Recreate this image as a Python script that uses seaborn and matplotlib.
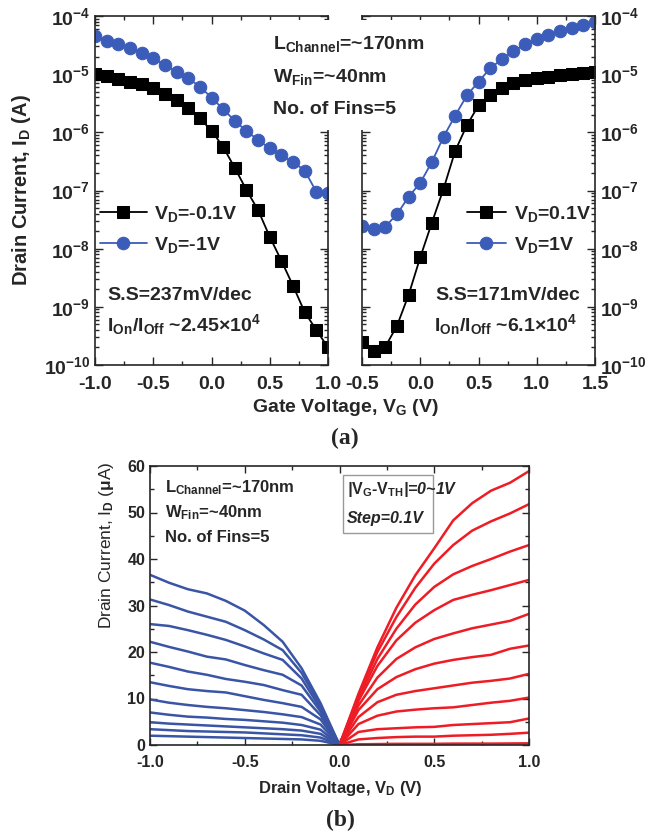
import matplotlib
matplotlib.use("Agg")
import matplotlib.pyplot as plt
import matplotlib.ticker as mticker
from matplotlib.patches import Rectangle
import seaborn as sns
import pandas as pd
import numpy as np

# ---------------- data ----------------
# (a) transfer curves, left: p-type side, right: n-type side
vg_left = [-1.0, -0.9, -0.8, -0.7, -0.6, -0.5, -0.4, -0.3, -0.2, -0.1, 0.0,
           0.1, 0.2, 0.3, 0.4, 0.5, 0.6, 0.7, 0.8, 0.9, 1.0]
id_left_vd01 = [1.0e-5, 9.3e-6, 8.3e-6, 7.4e-6, 6.7e-6, 5.7e-6, 4.6e-6, 3.6e-6, 2.6e-6, 1.74e-6, 1.07e-6,
                5.6e-7, 2.45e-7, 1.02e-7, 4.6e-8, 1.6e-8, 6.2e-9, 2.3e-9, 8.1e-10, 4.0e-10, 2.0e-10]
id_left_vd1 = [4.5e-5, 3.77e-5, 3.3e-5, 2.8e-5, 2.3e-5, 1.86e-5, 1.44e-5, 1.1e-5, 8.5e-6, 6.1e-6, 3.96e-6,
               2.5e-6, 1.58e-6, 1.05e-6, 7.4e-7, 5.3e-7, 4.0e-7, 3.1e-7, 2.2e-7, 9.5e-8, 8.9e-8]

vg_right = [-0.5, -0.4, -0.3, -0.2, -0.1, 0.0, 0.1, 0.2, 0.3, 0.4, 0.5,
            0.6, 0.7, 0.8, 0.9, 1.0, 1.1, 1.2, 1.3, 1.4, 1.5]
id_right_vd01 = [2.5e-10, 1.77e-10, 2.06e-10, 4.7e-10, 1.6e-9, 7.1e-9, 2.8e-8, 1.07e-7, 4.8e-7, 1.32e-6, 2.9e-6,
                 4.4e-6, 5.7e-6, 7.1e-6, 7.9e-6, 8.6e-6, 9.1e-6, 9.5e-6, 1.0e-5, 1.05e-5, 1.07e-5]
id_right_vd1 = [2.5e-8, 2.15e-8, 2.4e-8, 3.9e-8, 7.8e-8, 1.35e-7, 3.1e-7, 8.4e-7, 1.94e-6, 4.3e-6, 7.4e-6,
                1.26e-5, 1.8e-5, 2.5e-5, 3.25e-5, 3.97e-5, 4.8e-5, 5.6e-5, 6.2e-5, 7.0e-5, 7.8e-5]

# (b) output curves, |VG-VTH| = 1.0 ... 0.0 V (top to bottom), current in uA
vd_neg = [-1.0, -0.9, -0.8, -0.7, -0.6, -0.5, -0.4, -0.3, -0.2, -0.1, 0.0]
id_neg = [
    [36.6, 34.9, 33.5, 32.6, 31.0, 28.9, 25.8, 22.2, 16.5, 9.0, 0],
    [31.3, 30.1, 28.7, 27.6, 26.5, 24.7, 22.7, 20.4, 15.5, 8.4, 0],
    [26.0, 25.6, 24.7, 23.7, 22.6, 21.2, 19.7, 18.3, 14.3, 7.8, 0],
    [22.2, 21.1, 20.1, 19.0, 18.4, 17.2, 16.1, 15.1, 12.8, 7.2, 0],
    [17.7, 16.8, 15.8, 15.1, 14.2, 13.6, 12.9, 11.8, 10.8, 6.4, 0],
    [13.5, 12.7, 12.0, 11.6, 11.3, 10.5, 9.7, 9.0, 8.2, 5.5, 0],
    [9.8, 9.1, 8.6, 8.2, 7.9, 7.5, 7.1, 6.6, 6.0, 4.4, 0],
    [7.0, 6.5, 6.1, 5.9, 5.6, 5.4, 5.1, 4.8, 4.3, 3.3, 0],
    [4.9, 4.6, 4.4, 4.2, 4.0, 3.8, 3.6, 3.4, 3.1, 2.4, 0],
    [3.4, 3.2, 3.0, 2.9, 2.8, 2.7, 2.5, 2.3, 2.1, 1.6, 0],
    [2.0, 1.9, 1.8, 1.7, 1.6, 1.5, 1.4, 1.3, 1.2, 0.9, 0],
]
vd_pos = [0.0, 0.1, 0.2, 0.3, 0.4, 0.5, 0.6, 0.7, 0.8, 0.9, 1.0]
id_pos = [
    [0, 11.0, 21.0, 29.5, 36.5, 42.3, 48.3, 52.0, 54.7, 56.4, 58.9],
    [0, 10.5, 20.0, 27.5, 33.8, 39.0, 43.0, 46.1, 48.1, 49.8, 51.8],
    [0, 10.0, 18.5, 25.0, 30.2, 34.0, 36.7, 38.5, 40.0, 41.6, 43.0],
    [0, 9.5, 17.0, 22.5, 26.3, 29.0, 31.2, 32.3, 33.3, 34.4, 35.5],
    [0, 8.5, 14.5, 18.5, 21.0, 22.8, 24.0, 25.1, 25.9, 26.7, 28.2],
    [0, 7.5, 12.0, 14.6, 16.3, 17.5, 18.3, 18.9, 19.4, 20.7, 21.4],
    [0, 6.0, 9.2, 10.8, 11.6, 12.2, 12.8, 13.4, 13.8, 14.3, 15.3],
    [0, 4.5, 6.3, 7.2, 7.6, 7.9, 8.1, 8.6, 9.1, 9.5, 10.2],
    [0, 2.8, 3.4, 3.6, 3.8, 3.9, 4.3, 4.5, 4.7, 4.9, 5.7],
    [0, 1.2, 1.5, 1.7, 1.8, 1.8, 2.0, 2.1, 2.2, 2.4, 2.65],
    [0, 0.15, 0.2, 0.25, 0.25, 0.25, 0.3, 0.3, 0.3, 0.33, 0.36],
]

decades = [1e-10, 1e-9, 1e-8, 1e-7, 1e-6, 1e-5, 1e-4]
decade_labels = [r"$10^{-10}$", r"$10^{-9}$", r"$10^{-8}$", r"$10^{-7}$",
                 r"$10^{-6}$", r"$10^{-5}$", r"$10^{-4}$"]

# ---------------- style ----------------
sns.set_style("ticks")
plt.rcParams['font.family'] = ['Liberation Sans', 'DejaVu Sans']
plt.rcParams['font.weight'] = 'bold'
plt.rcParams['mathtext.fontset'] = 'custom'
plt.rcParams['mathtext.rm'] = 'Liberation Sans:bold'
plt.rcParams['mathtext.bf'] = 'Liberation Sans:bold'
plt.rcParams['mathtext.it'] = 'Liberation Sans:bold:italic'
plt.rcParams['mathtext.default'] = 'rm'
plt.rcParams['axes.linewidth'] = 1.2

blue_m = '#3b5cb8'
blue_l = '#3a55a6'
red_l = '#ee1c25'

W, H = 658, 835
fig = plt.figure(figsize=(W / 100, H / 100), dpi=100)


def box(x0, y0, x1, y1):
    # pixel box (top-left origin) -> figure fraction rect
    return [x0 / W, 1 - y1 / H, (x1 - x0) / W, (y1 - y0) / H]


ax1 = fig.add_axes(box(95, 16, 328, 365))
ax2 = fig.add_axes(box(362, 16, 595, 365))
ax3 = fig.add_axes(box(150, 466, 529, 745))

# ---------------- (a) ----------------
sns.lineplot(x=vg_left, y=id_left_vd01, ax=ax1, color='black', lw=1.3, marker='s',
             markersize=8, markeredgecolor='black', label=r'V$_\mathrm{D}$=-0.1V')
sns.lineplot(x=vg_left, y=id_left_vd1, ax=ax1, color=blue_m, lw=1.3, marker='o',
             markersize=9, markeredgecolor=blue_m, label=r'V$_\mathrm{D}$=-1V')
sns.lineplot(x=vg_right, y=id_right_vd01, ax=ax2, color='black', lw=1.3, marker='s',
             markersize=8, markeredgecolor='black', label=r'V$_\mathrm{D}$=0.1V')
sns.lineplot(x=vg_right, y=id_right_vd1, ax=ax2, color=blue_m, lw=1.3, marker='o',
             markersize=9, markeredgecolor=blue_m, label=r'V$_\mathrm{D}$=1V')

for ax, xlim in [(ax1, (-1.0, 1.0)), (ax2, (-0.5, 1.5))]:
    ax.set_yscale('log')
    ax.set_ylim(1e-10, 1e-4)
    ax.set_xlim(*xlim)
    ax.set_yticks(decades)
    ax.set_yticklabels(decade_labels)
    ax.yaxis.set_minor_locator(mticker.LogLocator(base=10, subs=np.arange(2, 10), numticks=20))
    ax.yaxis.set_minor_formatter(mticker.NullFormatter())
    ax.xaxis.set_major_locator(mticker.MultipleLocator(0.5))
    ax.xaxis.set_minor_locator(mticker.MultipleLocator(0.25))
    ax.xaxis.set_major_formatter(mticker.FormatStrFormatter('%.1f'))
    ax.tick_params(which='both', direction='in', top=True, bottom=True, left=True, right=True,
                   labelsize=14, width=1)
    ax.tick_params(which='major', length=6)
    ax.tick_params(which='minor', length=3)
    ax.tick_params(axis='x', pad=8)
    ax.set_xlabel('')
    ax.set_ylabel('')

ax2.tick_params(labelleft=False, labelright=True)

leg1 = ax1.legend(loc='upper left', bbox_to_anchor=(100 / W, 1 - 204 / H), bbox_transform=fig.transFigure,
                  frameon=False, fontsize=14, handlelength=2.4, handletextpad=0.4, labelspacing=0.55,
                  borderpad=0, borderaxespad=0)
leg2 = ax2.legend(loc='upper left', bbox_to_anchor=(467 / W, 1 - 204 / H), bbox_transform=fig.transFigure,
                  frameon=False, fontsize=14, handlelength=2.0, handletextpad=0.4, labelspacing=0.55,
                  borderpad=0, borderaxespad=0)

fig.text(107 / W, 1 - 296 / H, 'S.S=237mV/dec', fontsize=14, va='center')
fig.text(107 / W, 1 - 325 / H, r'I$_\mathrm{On}$/I$_\mathrm{Off}$ ~2.45$\times$10$^{4}$', fontsize=14, va='center')
fig.text(435 / W, 1 - 296 / H, 'S.S=171mV/dec', fontsize=14, va='center')
fig.text(434 / W, 1 - 325 / H, r'I$_\mathrm{On}$/I$_\mathrm{Off}$ ~6.1$\times$10$^{4}$', fontsize=14, va='center')

# white panel hiding the gap between the two plots
fig.add_artist(Rectangle((263 / W, 1 - 130 / H), 167 / W, 110 / H, transform=fig.transFigure,
                         facecolor='white', edgecolor='none', zorder=5))
for y, s in [(44, r'L$_\mathrm{Channel}$=~170nm'), (77, r'W$_\mathrm{Fin}$=~40nm'), (110, 'No. of Fins=5')]:
    fig.text(273 / W, 1 - y / H, s, fontsize=14, va='center', zorder=6)

fig.text(22 / W, 1 - 190 / H, r'Drain Current, I$_\mathrm{D}$ (A)', fontsize=14.5, rotation=90,
         ha='center', va='center')
fig.text(345 / W, 1 - 408 / H, r'Gate Voltage, V$_\mathrm{G}$ (V)', fontsize=14, ha='center', va='center')
fig.text(345 / W, 1 - 438 / H, '(a)', fontsize=17, ha='center', va='center',
         family='Liberation Serif', weight='bold')

# ---------------- (b) ----------------
neg_rows = []
for k, curve in enumerate(id_neg):
    for v, i in zip(vd_neg, curve):
        neg_rows.append({'vd': v, 'id': i, 'curve': k})
pos_rows = []
for k, curve in enumerate(id_pos):
    for v, i in zip(vd_pos, curve):
        pos_rows.append({'vd': v, 'id': i, 'curve': k})
df_neg = pd.DataFrame(neg_rows)
df_pos = pd.DataFrame(pos_rows)

sns.lineplot(data=df_neg, x='vd', y='id', units='curve', estimator=None, color=blue_l, lw=1.8, ax=ax3)
sns.lineplot(data=df_pos, x='vd', y='id', units='curve', estimator=None, color=red_l, lw=1.8, ax=ax3)

ax3.set_xlim(-1.0, 1.0)
ax3.set_ylim(0, 60)
ax3.xaxis.set_major_locator(mticker.MultipleLocator(0.5))
ax3.xaxis.set_minor_locator(mticker.MultipleLocator(0.25))
ax3.xaxis.set_major_formatter(mticker.FormatStrFormatter('%.1f'))
ax3.yaxis.set_major_locator(mticker.MultipleLocator(10))
ax3.yaxis.set_minor_locator(mticker.MultipleLocator(5))
ax3.tick_params(which='both', direction='in', top=True, bottom=True, left=True, right=True,
                labelsize=11.5, width=1)
ax3.tick_params(which='major', length=5)
ax3.tick_params(which='minor', length=3)
ax3.tick_params(axis='x', pad=7)
ax3.set_xlabel('')
ax3.set_ylabel('')

for y, s in [(488, r'L$_\mathrm{Channel}$=~170nm'), (513, r'W$_\mathrm{Fin}$=~40nm'), (537, 'No. of Fins=5')]:
    fig.text(165 / W, 1 - y / H, s, fontsize=12, va='center')

fig.add_artist(Rectangle((343 / W, 1 - 533 / H), 90 / W, 58 / H, transform=fig.transFigure,
                         facecolor='white', edgecolor='#999999', lw=1, zorder=5))
fig.text(347 / W, 1 - 490 / H, r'|$V_G$-$V_{TH}$|=0~1V', fontsize=11.5, style='italic', va='center', zorder=6)
fig.text(347 / W, 1 - 518 / H, 'Step=0.1V', fontsize=11.5, style='italic', va='center', zorder=6)

fig.text(107 / W, 1 - 545 / H, r'Drain Current, I$_\mathrm{D}$ ($\mu$A)', fontsize=12.5, weight='normal',
         rotation=90, ha='center', va='center')
fig.text(340 / W, 1 - 788 / H, r'Drain Voltage, V$_\mathrm{D}$ (V)', fontsize=12, ha='center', va='center')
fig.text(340 / W, 1 - 820 / H, '(b)', fontsize=17, ha='center', va='center',
         family='Liberation Serif', weight='bold')

fig.savefig('out.png', dpi=100)
